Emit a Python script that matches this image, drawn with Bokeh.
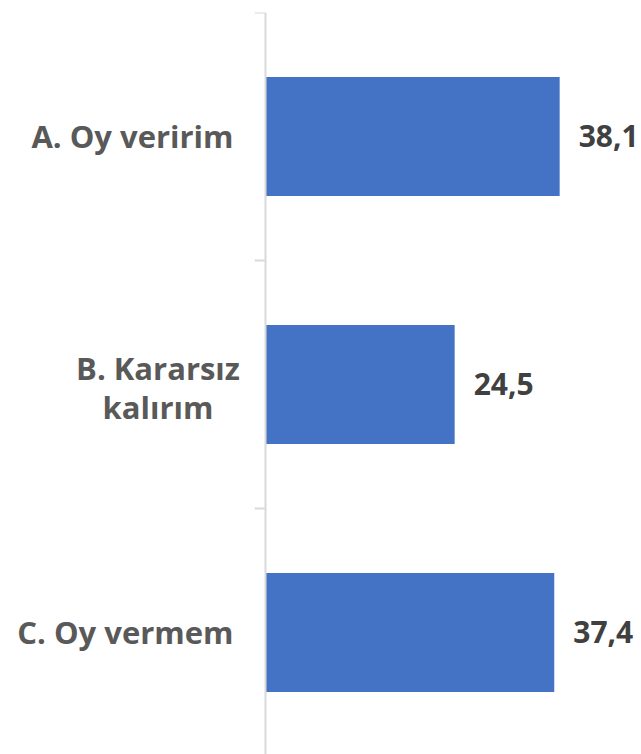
from bokeh.plotting import figure
from bokeh.layouts import row
from bokeh.models import Range1d, ColumnDataSource
from bokeh.core.properties import value
from bokeh.embed import file_html
from bokeh.resources import INLINE

categories = ["A. Oy veririm", "B. Kararsız\nkalırım", "C. Oy vermem"]
values = [38.1, 24.5, 37.4]
value_labels = ["38,1", "24,5", "37,4"]

n = len(categories)
centers = [i + 0.5 for i in range(n)]
bounds = list(range(n + 1))

FONT = "Open Sans"
yr = Range1d(2.992, 0)

# ---- label panel (left) ----
lp = figure(width=254, height=754, output_backend="svg", toolbar_location=None,
            x_range=Range1d(0, 254), y_range=yr,
            min_border_left=0, min_border_right=0, min_border_top=12, min_border_bottom=0)
lp.outline_line_color = None
lp.grid.visible = False
lp.axis.visible = False

single = [(c, l) for c, l in zip(centers, categories) if "\n" not in l]
multi = [(c, l) for c, l in zip(centers, categories) if "\n" in l]
lp.text(x=[233] * len(single), y=[c for c, _ in single], text=[l for _, l in single],
        text_align="right", text_baseline="middle",
        text_font=value(FONT), text_font_style="bold", text_font_size="31px",
        text_color="#595959")
lp.text(x=[157.5] * len(multi), y=[c for c, _ in multi], text=[l for _, l in multi],
        y_offset=3, text_align="center", text_baseline="middle", text_line_height=0.95,
        text_font=value(FONT), text_font_style="bold", text_font_size="31px",
        text_color="#595959")

# ---- bar panel ----
p = figure(width=387, height=754, output_backend="svg", toolbar_location=None,
           x_range=Range1d(-1.425, 48.7), y_range=yr,
           min_border_left=0, min_border_right=0, min_border_top=12, min_border_bottom=0)
p.outline_line_color = None
p.grid.visible = False
p.axis.visible = False

src = ColumnDataSource(dict(y=centers, right=values, lab=value_labels))
p.hbar(y="y", left=0, right="right", height=0.48, source=src,
       fill_color="#4472C4", line_color=None)

# axis line and boundary ticks
p.segment(x0=[0], y0=[0], x1=[0], y1=[n], line_color="#D9D9D9", line_width=2)
p.segment(x0=[-1.425] * (n + 1), y0=bounds, x1=[0] * (n + 1), y1=bounds,
          line_color="#D9D9D9", line_width=2)

p.text(x="right", y="y", text="lab", source=src, x_offset=19,
       text_align="left", text_baseline="middle",
       text_font=value(FONT), text_font_style="bold", text_font_size="30px",
       text_color="#404040")

layout = row(lp, p, spacing=0)
open("out.html", "w").write(file_html(layout, INLINE))
